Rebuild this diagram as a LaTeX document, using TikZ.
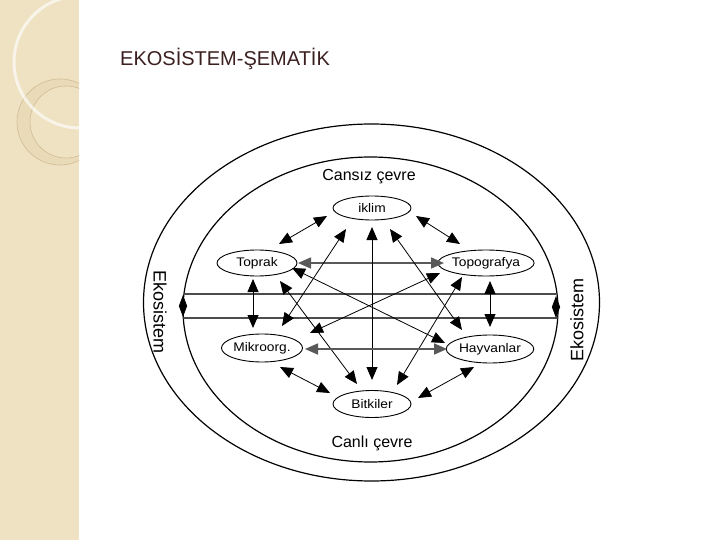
\documentclass[tikz,border=0pt]{standalone}
\usepackage{fontspec}
\setmainfont{Liberation Sans}
\usetikzlibrary{shapes.geometric,arrows.meta,calc}
\definecolor{strip}{HTML}{EFE2C2}
\definecolor{striplight}{HTML}{F6EEDC}
\definecolor{stripline}{HTML}{D2BC94}
\definecolor{titlecol}{HTML}{3C2020}
\tikzset{
  elnode/.style={draw,ellipse,line width=0.9pt,inner sep=0pt,minimum width=80pt,minimum height=27pt,font=\fontsize{12.5}{13}\selectfont},
  arr/.style={<->,>={Triangle[length=13pt,width=11pt]},line width=0.8pt,black},
  arrthick/.style={arr,line width=1.6pt,black!65},
  bigring/.style={line width=1.2pt},
  hline/.style={line width=2pt,black!70},
  lbl/.style={font=\fontsize{16}{18}\selectfont},
  eko/.style={font=\fontsize{18}{20}\selectfont}
}
\newcommand{\sx}[1]{\scalebox{1.1}[1]{#1}}
\begin{document}
\begin{tikzpicture}[x=1pt,y=-1pt]
\useasboundingbox (0,0) rectangle (720,540);
\fill[white] (0,0) rectangle (720,540);
% left decorative strip
\begin{scope}
\clip (0,0) rectangle (79,540);
\fill[strip] (0,0) rectangle (79,540);
\fill[striplight] (0,0) -- (64,0) arc[start angle=0,end angle=90,x radius=64,y radius=-64] -- cycle;
\draw[stripline,line width=0.5pt] (64,0) arc[start angle=0,end angle=90,x radius=64,y radius=-64];
\fill[stripline,opacity=0.2,even odd rule] (60,122) circle[radius=43] (66,122) circle[radius=36];
\draw[stripline,line width=0.6pt] (60,122) circle[radius=43];
\draw[stripline,line width=0.6pt] (66,122) circle[radius=36];
\draw[white,opacity=0.65,line width=3pt] (80,62) circle[radius=66];
\end{scope}
% title
\node[anchor=base west,inner sep=0pt,text=titlecol,font=\fontsize{20}{24}\selectfont] (title) at (120,66) {EKOSİSTEM-ŞEMATİK};
% ellipses
\draw[bigring] (371.5,302.5) ellipse[x radius=228,y radius=178.5];
\draw[bigring] (370.5,309.5) ellipse[x radius=187.5,y radius=152.5];
\begin{scope}
\clip (370.5,309.5) ellipse[x radius=187.5,y radius=152.5];
\draw[hline] (150,294) -- (600,294);
\draw[hline] (150,318) -- (600,318);
\end{scope}
% labels
\node[lbl] (cansiz) at (369,177) {Cansız çevre};
\node[lbl] (canli) at (372,443) {Canlı çevre};
\node[eko,rotate=-90] (ekoL) at (160,312) {Ekosistem};
\node[eko,rotate=90] (ekoR) at (577,320) {Ekosistem};
% nodes
\node[elnode,minimum width=78pt,minimum height=24pt] (iklim) at (372,208) {\sx{iklim}};
\node[elnode,minimum width=80pt,minimum height=26pt] (toprak) at (257,263) {\sx{Toprak}};
\node[elnode,minimum width=82pt,minimum height=26pt] (topo) at (486,263) {\sx{Topografya}};
\node[elnode,minimum width=80pt,minimum height=28pt] (mikro) at (262,348) {\sx{Mikroorg.}};
\node[elnode,minimum width=80pt,minimum height=28pt] (hayv) at (490,349) {\sx{Hayvanlar}};
\node[elnode,minimum width=78pt,minimum height=27pt] (bitk) at (372,404) {\sx{Bitkiler}};
% boundary arrows
\coordinate (lt) at (183,295); \coordinate (lb) at (183,317);
\coordinate (rt) at (556,296); \coordinate (rb) at (556,318);
\draw[arr,>={Triangle[length=11pt,width=8pt]}] (lt) -- (lb);
\draw[arr,>={Triangle[length=11pt,width=8pt]}] (rt) -- (rb);
% connectors
\draw[arr] ($(iklim)+(-45,8)$) -- ($(toprak)+(22,-19)$);
\draw[arr] ($(iklim)+(44,8)$) -- ($(topo)+(-26,-19)$);
\draw[arrthick] ($(toprak)+(41,0)$) -- ($(topo)+(-42,0)$);
\draw[arr] ($(iklim)+(0,19)$) -- ($(bitk)+(0,-24)$);
\draw[arr] ($(iklim)+(-26,21)$) -- ($(mikro)+(20,-22)$);
\draw[arr] ($(iklim)+(18,21)$) -- ($(hayv)+(-28,-19)$);
\draw[arr] ($(toprak)+(23,18)$) -- ($(bitk)+(-15,-20)$);
\draw[arr] ($(topo)+(-24,14)$) -- ($(bitk)+(25,-19)$);
\draw[arr] ($(toprak)+(35,5)$) -- ($(hayv)+(-45,-6)$);
\draw[arr] ($(topo)+(-46,10)$) -- ($(mikro)+(48,-15)$);
\draw[arrthick] ($(mikro)+(43,1)$) -- ($(hayv)+(-43,0)$);
\draw[arr] ($(mikro)+(18,19)$) -- ($(bitk)+(-42,-11)$);
\draw[arr] ($(hayv)+(-16,18)$) -- ($(bitk)+(46,-6)$);
\draw[arr] ($(toprak)+(-4,16)$) -- ($(mikro)+(-9,-20)$);
\draw[arr] ($(topo)+(4,18)$) -- ($(hayv)+(0,-22)$);
\end{tikzpicture}
\end{document}
